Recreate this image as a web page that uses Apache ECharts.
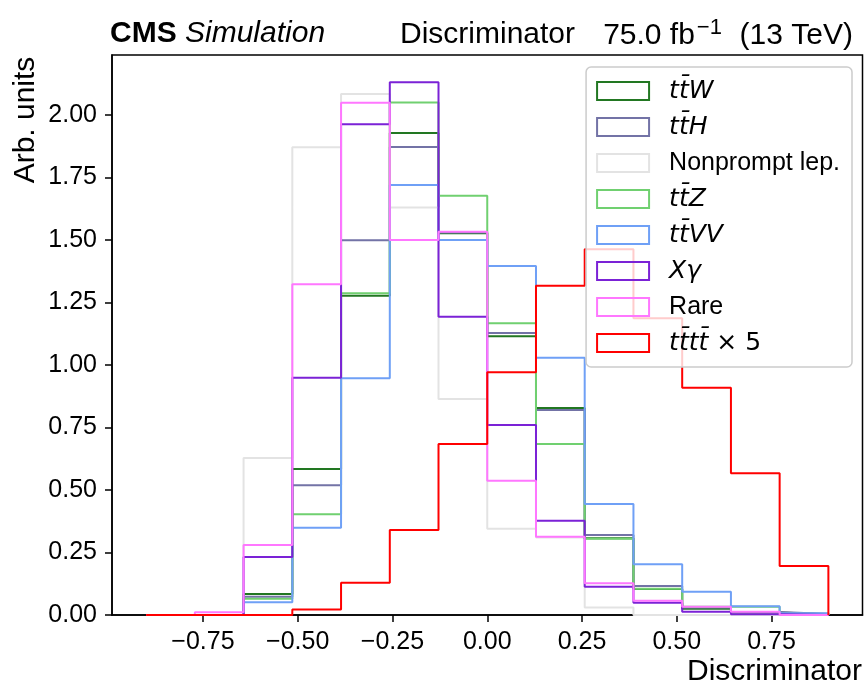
<!DOCTYPE html>
<html>
<head>
<meta charset="utf-8">
<script src="https://cdn.jsdelivr.net/npm/echarts@6/dist/echarts.min.js"></script>
<style>
html,body{margin:0;padding:0;background:#fff;}
#chart{width:866px;height:684px;}
</style>
</head>
<body>
<div id="chart"></div>
<script>
// ---- data ----
const binEdges = [-0.9, -0.7714, -0.6429, -0.5143, -0.3857, -0.2571, -0.1286, 0, 0.1286, 0.2571, 0.3857, 0.5143, 0.6429, 0.7714, 0.9];
const seriesNames = ['ttW', 'ttH', 'Nonprompt lep.', 'ttZ', 'ttVV', 'Xgamma', 'Rare', 'tttt x 5'];
const ttW      = [0, 0, 0.084, 0.584, 1.277, 1.928, 1.527, 1.115, 0.828, 0.307, 0.104, 0.025, 0.010, 0.003];
const ttH      = [0, 0, 0.073, 0.519, 1.499, 1.872, 1.530, 1.128, 0.820, 0.320, 0.116, 0.030, 0.012, 0.004];
const nonprompt= [0, 0, 0.628, 1.871, 2.084, 1.630, 0.864, 0.345, 0.310, 0.030, 0, 0, 0, 0];
const ttZ      = [0, 0, 0.065, 0.403, 1.287, 2.050, 1.677, 1.167, 0.684, 0.305, 0.105, 0.033, 0.033, 0.005];
const ttVV     = [0, 0, 0.051, 0.349, 0.947, 1.720, 1.500, 1.396, 1.029, 0.444, 0.203, 0.093, 0.035, 0.007];
const xgamma   = [0, 0, 0.232, 0.949, 1.963, 2.131, 1.193, 0.760, 0.377, 0.113, 0.049, 0.013, 0.003, 0];
const rare     = [0, 0.011, 0.280, 1.323, 2.049, 1.500, 1.533, 0.537, 0.313, 0.127, 0.057, 0.033, 0.013, 0];
const tttt5    = [0, 0, 0, 0.022, 0.129, 0.340, 0.684, 0.971, 1.317, 1.463, 1.187, 0.909, 0.567, 0.196];
const xTicks = [-0.75, -0.5, -0.25, 0, 0.25, 0.5, 0.75];
const yTicks = [0, 0.25, 0.5, 0.75, 1.0, 1.25, 1.5, 1.75, 2.0];

// ---- styles ----
const colors = ['#227722', '#7373a6', '#e3e3e3', '#70d070', '#6fa0f6', '#7b22d6', '#ff77ff', '#ff0000'];
const allValues = [ttW, ttH, nonprompt, ttZ, ttVV, xgamma, rare, tttt5];

function stepData(vals) {
  const d = [[binEdges[0], 0]];
  for (let i = 0; i < vals.length; i++) d.push([binEdges[i], vals[i]]);
  d.push([binEdges[binEdges.length - 1], vals[vals.length - 1]]);
  d.push([binEdges[binEdges.length - 1], 0]);
  return d;
}

const MINUS = '\u2212';
function fmt(v) {
  const s = Math.abs(v).toFixed(2);
  return (v < -1e-9 ? MINUS : '') + s;
}

const TB = 't\u0304';
const legendLabels = {
  'ttW': '{sp| }{m|t' + TB + 'W}',
  'ttH': '{sp| }{m|t' + TB + 'H}',
  'Nonprompt lep.': '{sp| }{n|Nonprompt lep.}',
  'ttZ': '{sp| }{m|t' + TB + 'Z}',
  'ttVV': '{sp| }{m|t' + TB + 'VV}',
  'Xgamma': '{sp| }{m|X\u03b3}',
  'Rare': '{sp| }{n|Rare}',
  'tttt x 5': '{sp| }{m|t' + TB + 't' + TB + '}{u| \u00d7 5}'
};

const chart = echarts.init(document.getElementById('chart'), null, {renderer: 'canvas'});

const series = seriesNames.map((name, k) => ({
  name: name,
  type: 'line',
  step: 'end',
  symbol: 'none',
  data: stepData(allValues[k]),
  lineStyle: {color: colors[k], width: 2},
  itemStyle: {color: colors[k]},
  emphasis: {disabled: true},
  animation: false
}));

const option = {
  animation: false,
  backgroundColor: '#ffffff',
  grid: {
    left: 112, right: 3.5, top: 55, bottom: 69,
    show: true, borderColor: '#000', borderWidth: 1.5, backgroundColor: 'transparent'
  },
  xAxis: {
    type: 'value', min: -0.99, max: 0.99,
    axisLine: {show: true, onZero: false, lineStyle: {color: '#000', width: 1.5}},
    axisTick: {show: true, inside: false, length: 7, lineStyle: {color: '#000', width: 1.5}, customValues: xTicks},
    axisLabel: {
      show: true, customValues: xTicks, margin: 15, color: '#000',
      fontFamily: 'Liberation Sans', fontSize: 25, formatter: v => fmt(v)
    },
    splitLine: {show: false}
  },
  yAxis: {
    type: 'value', min: 0, max: 2.24,
    axisLine: {show: true, onZero: false, lineStyle: {color: '#000', width: 1.5}},
    axisTick: {show: true, inside: false, length: 7, lineStyle: {color: '#000', width: 1.5}, customValues: yTicks},
    axisLabel: {
      show: true, customValues: yTicks, margin: 15, color: '#000',
      fontFamily: 'Liberation Sans', fontSize: 25, formatter: v => fmt(v)
    },
    splitLine: {show: false}
  },
  legend: {
    show: true,
    orient: 'vertical',
    right: 14, top: 67,
    icon: 'rect',
    itemWidth: 52, itemHeight: 18, itemGap: 8,
    padding: [10, 12, 10, 10],
    backgroundColor: 'rgba(255,255,255,0.8)',
    borderColor: '#cccccc', borderWidth: 1.5, borderRadius: 5,
    selectedMode: false,
    data: seriesNames.map((n, k) => ({
      name: n,
      itemStyle: {color: 'rgba(255,255,255,0)', borderColor: colors[k], borderWidth: 2}
    })),
    formatter: name => legendLabels[name],
    textStyle: {
      color: '#000', fontSize: 25, lineHeight: 28,
      rich: {
        sp: {width: 15, fontSize: 25, lineHeight: 28},
        m: {fontFamily: 'DejaVu Sans', fontStyle: 'italic', fontSize: 25, lineHeight: 28, color: '#000'},
        u: {fontFamily: 'DejaVu Sans', fontSize: 25, lineHeight: 28, color: '#000'},
        n: {fontFamily: 'Liberation Sans', fontSize: 25, lineHeight: 28, color: '#000'}
      }
    }
  },
  graphic: [
    {
      type: 'text', left: 110, top: 19, silent: true,
      style: {
        text: '{b|CMS }{i|Simulation}',
        rich: {
          b: {fontFamily: 'Liberation Sans', fontWeight: 'bold', fontSize: 30, lineHeight: 32, fill: '#000'},
          i: {fontFamily: 'Liberation Sans', fontStyle: 'italic', fontSize: 30, lineHeight: 32, fill: '#000'}
        }
      }
    },
    {
      type: 'text', left: 400, top: 19, silent: true,
      style: {text: 'Discriminator', fontFamily: 'Liberation Sans', fontSize: 30, lineHeight: 32, fill: '#000'}
    },
    {
      type: 'text', right: 13, top: 17, silent: true,
      style: {
        text: '{n|75.0 fb}{s|\u22121}{n|  (13 TeV)}',
        rich: {
          n: {fontFamily: 'Liberation Sans', fontSize: 30, lineHeight: 34, verticalAlign: 'bottom', fill: '#000'},
          s: {fontFamily: 'Liberation Sans', fontSize: 22, lineHeight: 20, verticalAlign: 'top', padding: [0, 1, 0, 2], fill: '#000'}
        }
      }
    },
    {
      type: 'text', x: 26, y: 120, rotation: Math.PI / 2, silent: true,
      style: {text: 'Arb. units', fontFamily: 'Liberation Sans', fontSize: 30, fill: '#000', align: 'center', verticalAlign: 'middle'}
    },
    {
      type: 'text', right: 4, top: 656, silent: true,
      style: {text: 'Discriminator', fontFamily: 'Liberation Sans', fontSize: 30, lineHeight: 32, fill: '#000'}
    }
  ],
  series: series
};
chart.setOption(option);
</script>
</body>
</html>
